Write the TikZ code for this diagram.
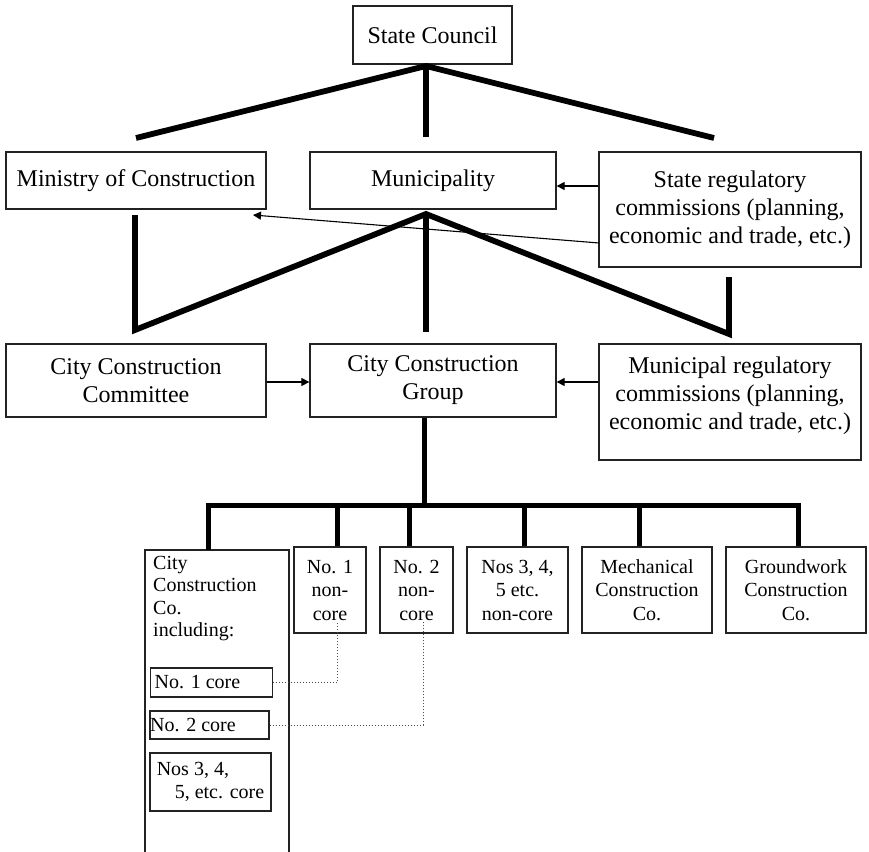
\documentclass[tikz,border=0pt]{standalone}
\usepackage{fontspec}
\setmainfont{Liberation Serif}
\usetikzlibrary{arrows.meta}
\definecolor{boxc}{HTML}{222222}
\begin{document}
\begin{tikzpicture}[x=1pt,y=-1pt,
  box/.style={draw=boxc, line width=1.3pt, inner sep=0pt, align=center,
    font=\fontsize{24}{28}\selectfont},
  sbox/.style={draw=boxc, line width=1.3pt, inner sep=0pt, align=center,
    font=\fontsize{20}{23.5}\selectfont},
  heavy/.style={line width=5.8pt, line join=miter, miter limit=20},
  bar/.style={line width=5pt, line cap=butt},
  thinarrow/.style={line width=1.1pt, -{Triangle[length=8pt,width=8pt]}},
  dots/.style={dotted, line width=1pt, black!70}
  ]
\useasboundingbox (0,0) rectangle (869,851);

% --- top level ---
\node[box, minimum width=159pt, minimum height=58pt] (sc) at (432.5,35) {State Council};
\node[box, minimum width=260pt, minimum height=57pt] (moc) at (136,180.5) {Ministry of Construction};
\node[box, minimum width=246pt, minimum height=57pt] (mun) at (433,180.5) {Municipality};
\node[box, minimum width=262pt, minimum height=115pt] (sreg) at (730,209.5)
  {State regulatory\\commissions (planning,\\economic and trade, etc.)};

\coordinate (scapex) at (426,66);
\coordinate (tl) at (136,138);
\coordinate (tm) at (426,137);
\coordinate (tr) at (714,138);
\draw[heavy] (tl) -- (scapex) -- (tr);
\draw[heavy] (scapex) -- (tm);

\draw[thinarrow] (sreg.west |- 0,186) -- (mun.east |- 0,186);
\coordinate (mocpt) at (253,215);
\draw[thinarrow] (599,243) -- (mocpt);

% --- second level ---
\node[box, minimum width=260pt, minimum height=73pt] (ccc) at (136,380.5) {City Construction\\Committee};
\node[box, minimum width=246pt, minimum height=73pt] (ccg) at (433,380.5) {City Construction\\Group};
\node[box, minimum width=262pt, minimum height=116pt] (mreg) at (730,402) {};
\node[inner sep=0pt, align=center, font=\fontsize{24}{28}\selectfont] (mregt) at (730,396)
  {Municipal regulatory\\commissions (planning,\\economic and trade, etc.)};

\coordinate (munapex) at (426,214);
\coordinate (mocdrop) at (135,215);
\coordinate (lv) at (135,330);
\coordinate (mv) at (426,332);
\coordinate (rv) at (729,334);
\coordinate (sregdrop) at (729,277);
\draw[heavy] (mocdrop) -- (lv) -- (munapex) -- (rv) -- (sregdrop);
\draw[heavy] (munapex) -- (mv);

\draw[thinarrow] (ccc.east |- 0,382) -- (ccg.west |- 0,382);
\draw[thinarrow] (mreg.west |- 0,382) -- (ccg.east |- 0,382);

% --- third level ---
\coordinate (barmid) at (424.5,505);
\draw[bar] (ccg.south -| barmid) -- (barmid);
\draw[bar] (205.5,505) -- (800.5,505);

\node[sbox, minimum width=72pt, minimum height=86pt] (nc1) at (330,590) {No. 1\\non-\\core};
\node[sbox, minimum width=73pt, minimum height=86pt] (nc2) at (416.5,590) {No. 2\\non-\\core};
\node[sbox, minimum width=101pt, minimum height=86pt] (nc3) at (517.5,590) {Nos 3, 4,\\5 etc.\\non-core};
\node[sbox, minimum width=130pt, minimum height=86pt] (mech) at (647,590) {Mechanical\\Construction\\Co.};
\node[sbox, minimum width=140pt, minimum height=86pt] (gw) at (796,590) {Groundwork\\Construction\\Co.};

% open box of the City Construction Co.
\coordinate (ccotl) at (145,550);
\coordinate (ccotr) at (289,550);
\draw[draw=boxc, line width=1.3pt] (145,852) -- (ccotl) -- (ccotr) -- (289,852);
\node[inner sep=0pt, anchor=north west, align=left, font=\fontsize{20}{22.5}\selectfont] (cco) at (153,556)
  {City\\Construction\\Co.\\including:};

\draw[bar] (208,503) -- (208,550);
\draw[bar] (337,503) -- (nc1.north -| 337,0);
\draw[bar] (409,503) -- (nc2.north -| 409,0);
\draw[bar] (524,503) -- (nc3.north -| 524,0);
\draw[bar] (639,503) -- (mech.north -| 639,0);
\draw[bar] (798,503) -- (gw.north -| 798,0);

\node[sbox, minimum width=120pt, minimum height=29pt, align=left, anchor=west] (core1) at (150,682.5)
  {\hspace*{4pt}No. 1 core\hspace*{32pt}};
\node[sbox, minimum width=119pt, minimum height=28pt, align=left] (core2) at (209.5,725)
  {No. 2 core\hspace*{33pt}};
\node[sbox, minimum width=121pt, minimum height=58pt, align=left] (core3) at (210.5,782)
  {Nos 3, 4,\\\hspace*{18pt}5, etc. core};

\coordinate (d1) at (337,682.5);
\coordinate (d2) at (423,725);
\draw[dots] (core1.east) -- (d1) -- (d1 |- 0,622);
\draw[dots] (core2.east) -- (d2) -- (d2 |- 0,622);
\end{tikzpicture}
\end{document}
